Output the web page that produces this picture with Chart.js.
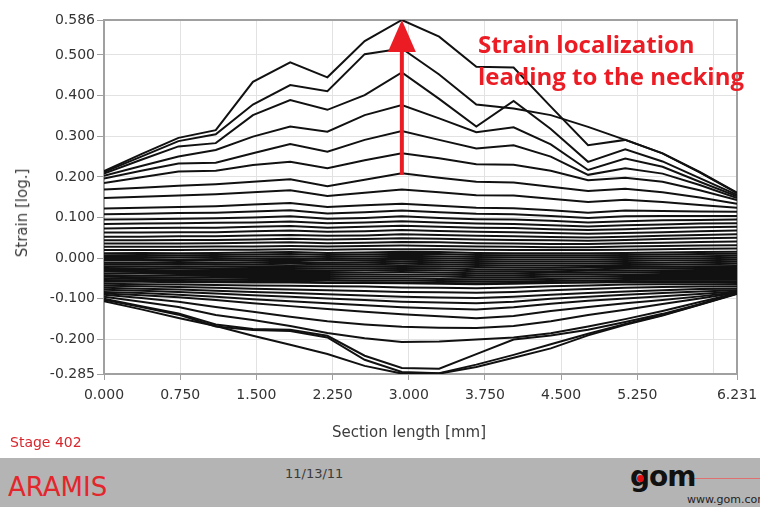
<!DOCTYPE html>
<html lang="en">
<head>
    <meta charset="UTF-8">
    <title>Strain along section - Stage 402</title>
    <script src="https://cdn.jsdelivr.net/npm/chart.js"></script>
    <style>
        body { margin: 0; width: 760px; height: 507px; position: relative; overflow: hidden; background: #fff; font-family: "DejaVu Sans", sans-serif; }
        #chartBox { position: absolute; left: 0; top: 0; width: 760px; height: 455px; }
        .txt { position: absolute; white-space: nowrap; }
        #yTitle { left: 22px; top: 213px; font-size: 15px; color: #3c3c3c; transform: translate(-50%, -50%) rotate(-90deg); }
        #xTitle { left: 409px; top: 432px; font-size: 15px; color: #3c3c3c; transform: translate(-50%, -50%); }
        #note { left: 478px; top: 28px; font-family: "Open Sans", sans-serif; font-weight: bold; font-size: 24px; line-height: 32px; color: #ec1c24; }
        #stage { left: 10px; top: 434px; font-size: 14px; color: #d8262c; }
        #footer { position: absolute; left: 0; top: 458px; width: 760px; height: 49px; background: #b4b4b4; }
        #aramis { left: 8px; top: 14px; font-size: 26px; color: #e3262b; }
        #date { left: 285px; top: 8px; font-size: 13px; color: #3a3a3a; }
        #gom { left: 630px; top: 2px; font-size: 28px; font-weight: bold; color: #111; letter-spacing: -1px; }
        #gomDot { position: absolute; left: 637px; top: 17px; width: 7px; height: 7px; border-radius: 50%; background: #e01010; }
        #gomLine { position: absolute; left: 688px; top: 20px; width: 80px; height: 1px; background: #e07070; }
        #web { left: 687px; top: 35px; font-size: 11px; color: #222; }
    </style>
</head>
<body>
    <div id="chartBox"><canvas id="strainChart" width="760" height="455"></canvas></div>
    <div class="txt" id="yTitle">Strain [log.]</div>
    <div class="txt" id="xTitle">Section length [mm]</div>
    <div class="txt" id="note">Strain localization<br>leading to the necking</div>
    <div class="txt" id="stage">Stage 402</div>
    <div id="footer">
        <div class="txt" id="aramis">ARAMIS</div>
        <div class="txt" id="date">11/13/11</div>
        <div id="gomLine"></div>
        <div class="txt" id="gom">gom</div>
        <div id="gomDot"></div>
        <div class="txt" id="web">www.gom.com</div>
    </div>

    <script>
        // section positions [mm]
        const sectionX = [0, 0.367, 0.733, 1.100, 1.466, 1.833, 2.199, 2.566, 2.932, 3.299, 3.665, 4.032, 4.398, 4.765, 5.131, 5.498, 5.864, 6.231];

        // axis ticks
        const xTickValues = [0, 0.75, 1.5, 2.25, 3.0, 3.75, 4.5, 5.25, 6.0, 6.231];
        const yTickValues = [-0.285, -0.2, -0.1, 0, 0.1, 0.2, 0.3, 0.4, 0.5, 0.586];

        // strain curves, one per stage (upper / near zero / lower)
        const upperCurves = [
            [0.214, 0.256, 0.296, 0.315, 0.434, 0.482, 0.445, 0.534, 0.586, 0.545, 0.471, 0.469, 0.373, 0.278, 0.291, 0.258, 0.212, 0.161],
            [0.212, 0.250, 0.288, 0.305, 0.378, 0.426, 0.411, 0.502, 0.516, 0.452, 0.378, 0.368, 0.352, 0.323, 0.291, 0.258, 0.211, 0.160],
            [0.208, 0.242, 0.275, 0.283, 0.352, 0.389, 0.365, 0.401, 0.457, 0.392, 0.324, 0.387, 0.318, 0.237, 0.268, 0.238, 0.197, 0.156],
            [0.203, 0.227, 0.250, 0.266, 0.299, 0.324, 0.311, 0.352, 0.377, 0.344, 0.310, 0.322, 0.280, 0.217, 0.245, 0.225, 0.188, 0.152],
            [0.196, 0.215, 0.233, 0.235, 0.258, 0.281, 0.262, 0.291, 0.313, 0.291, 0.270, 0.278, 0.250, 0.205, 0.221, 0.208, 0.180, 0.148],
            [0.185, 0.199, 0.213, 0.215, 0.229, 0.237, 0.221, 0.241, 0.258, 0.246, 0.231, 0.230, 0.215, 0.192, 0.198, 0.188, 0.167, 0.143],
            [0.169, 0.173, 0.178, 0.182, 0.188, 0.194, 0.177, 0.193, 0.209, 0.198, 0.188, 0.186, 0.176, 0.165, 0.171, 0.162, 0.149, 0.134],
            [0.148, 0.151, 0.154, 0.157, 0.162, 0.167, 0.153, 0.161, 0.169, 0.162, 0.155, 0.154, 0.146, 0.138, 0.144, 0.138, 0.131, 0.124],
            [0.122, 0.124, 0.126, 0.128, 0.132, 0.136, 0.126, 0.130, 0.134, 0.129, 0.124, 0.123, 0.118, 0.112, 0.117, 0.116, 0.115, 0.114],
            [0.108, 0.109, 0.111, 0.112, 0.115, 0.118, 0.110, 0.113, 0.117, 0.113, 0.109, 0.108, 0.104, 0.099, 0.103, 0.104, 0.104, 0.104],
            [0.095, 0.096, 0.097, 0.098, 0.100, 0.103, 0.097, 0.099, 0.103, 0.099, 0.096, 0.095, 0.092, 0.088, 0.091, 0.093, 0.094, 0.095],
            [0.084, 0.085, 0.086, 0.087, 0.088, 0.090, 0.086, 0.088, 0.091, 0.088, 0.085, 0.084, 0.081, 0.078, 0.081, 0.083, 0.085, 0.086],
            [0.073, 0.074, 0.075, 0.075, 0.077, 0.079, 0.075, 0.077, 0.080, 0.077, 0.075, 0.074, 0.071, 0.069, 0.071, 0.074, 0.076, 0.077],
            [0.063, 0.063, 0.064, 0.064, 0.066, 0.068, 0.065, 0.066, 0.069, 0.067, 0.065, 0.064, 0.062, 0.060, 0.062, 0.064, 0.066, 0.068],
            [0.053, 0.053, 0.054, 0.054, 0.056, 0.057, 0.055, 0.056, 0.059, 0.057, 0.055, 0.054, 0.052, 0.051, 0.053, 0.055, 0.057, 0.059],
            [0.044, 0.044, 0.045, 0.045, 0.046, 0.048, 0.046, 0.047, 0.049, 0.048, 0.046, 0.045, 0.044, 0.043, 0.045, 0.047, 0.049, 0.050],
            [0.036, 0.036, 0.036, 0.037, 0.038, 0.039, 0.037, 0.038, 0.040, 0.039, 0.037, 0.036, 0.035, 0.035, 0.037, 0.038, 0.040, 0.041],
            [0.028, 0.028, 0.028, 0.029, 0.029, 0.030, 0.029, 0.030, 0.031, 0.030, 0.029, 0.028, 0.027, 0.027, 0.029, 0.030, 0.031, 0.032],
            [0.020, 0.020, 0.020, 0.021, 0.021, 0.022, 0.021, 0.022, 0.022, 0.022, 0.021, 0.020, 0.020, 0.020, 0.021, 0.022, 0.023, 0.024]
        ];

        const bandCurves = [
            [0.012, 0.013, 0.012, 0.013, 0.014, 0.015, 0.013, 0.014, 0.016, 0.015, 0.013, 0.012, 0.012, 0.012, 0.013, 0.014, 0.015, 0.016],
            [0.007, 0.008, 0.007, 0.008, 0.009, 0.010, 0.008, 0.009, 0.011, 0.010, 0.008, 0.007, 0.007, 0.007, 0.008, 0.009, 0.010, 0.011],
            [0.003, 0.003, 0.002, 0.003, 0.004, 0.005, 0.003, 0.004, 0.006, 0.005, 0.003, 0.002, 0.002, 0.002, 0.003, 0.004, 0.005, 0.006],
            [-0.002, -0.002, -0.003, -0.002, -0.001, 0.000, -0.002, -0.001, 0.001, 0.000, -0.002, -0.003, -0.003, -0.003, -0.002, -0.001, 0.000, 0.001],
            [-0.006, -0.006, -0.007, -0.006, -0.005, -0.004, -0.006, -0.005, -0.004, -0.005, -0.007, -0.008, -0.008, -0.008, -0.007, -0.006, -0.005, -0.004],
            [-0.011, -0.011, -0.012, -0.011, -0.010, -0.009, -0.011, -0.010, -0.009, -0.010, -0.012, -0.013, -0.013, -0.013, -0.012, -0.011, -0.010, -0.009],
            [-0.015, -0.015, -0.016, -0.015, -0.015, -0.014, -0.015, -0.015, -0.014, -0.015, -0.017, -0.018, -0.018, -0.018, -0.017, -0.016, -0.015, -0.014],
            [-0.020, -0.020, -0.021, -0.020, -0.020, -0.019, -0.020, -0.020, -0.019, -0.020, -0.022, -0.023, -0.023, -0.022, -0.022, -0.021, -0.020, -0.019],
            [-0.024, -0.025, -0.025, -0.025, -0.024, -0.024, -0.025, -0.025, -0.024, -0.025, -0.027, -0.028, -0.027, -0.027, -0.026, -0.025, -0.024, -0.024],
            [-0.029, -0.029, -0.030, -0.029, -0.029, -0.029, -0.030, -0.030, -0.029, -0.030, -0.032, -0.032, -0.032, -0.031, -0.031, -0.030, -0.029, -0.029],
            [-0.033, -0.034, -0.034, -0.034, -0.034, -0.034, -0.034, -0.035, -0.034, -0.035, -0.037, -0.037, -0.036, -0.036, -0.035, -0.034, -0.034, -0.034],
            [-0.038, -0.038, -0.039, -0.039, -0.039, -0.039, -0.039, -0.040, -0.040, -0.040, -0.042, -0.042, -0.041, -0.040, -0.040, -0.039, -0.039, -0.039],
            [-0.042, -0.043, -0.043, -0.044, -0.044, -0.044, -0.044, -0.045, -0.045, -0.045, -0.047, -0.047, -0.046, -0.045, -0.044, -0.044, -0.044, -0.044],
            [-0.046, -0.047, -0.048, -0.048, -0.049, -0.049, -0.049, -0.050, -0.050, -0.051, -0.052, -0.052, -0.051, -0.050, -0.049, -0.049, -0.049, -0.049],
            [-0.050, -0.051, -0.052, -0.053, -0.054, -0.054, -0.054, -0.055, -0.055, -0.056, -0.057, -0.057, -0.056, -0.055, -0.054, -0.053, -0.053, -0.053],
            [-0.054, -0.055, -0.056, -0.057, -0.058, -0.058, -0.059, -0.059, -0.060, -0.061, -0.062, -0.061, -0.060, -0.059, -0.058, -0.057, -0.057, -0.057]
        ];

        const lowerCurves = [
            [-0.058, -0.058, -0.059, -0.059, -0.060, -0.060, -0.061, -0.061, -0.062, -0.063, -0.064, -0.063, -0.061, -0.060, -0.059, -0.059, -0.059, -0.061],
            [-0.063, -0.064, -0.065, -0.066, -0.067, -0.068, -0.069, -0.070, -0.072, -0.073, -0.074, -0.072, -0.069, -0.067, -0.065, -0.064, -0.064, -0.065],
            [-0.068, -0.069, -0.071, -0.073, -0.075, -0.077, -0.079, -0.081, -0.083, -0.084, -0.085, -0.083, -0.079, -0.076, -0.073, -0.071, -0.070, -0.070],
            [-0.073, -0.075, -0.077, -0.080, -0.083, -0.086, -0.089, -0.092, -0.095, -0.097, -0.098, -0.095, -0.090, -0.086, -0.082, -0.079, -0.076, -0.075],
            [-0.078, -0.080, -0.083, -0.087, -0.091, -0.095, -0.099, -0.103, -0.107, -0.109, -0.111, -0.107, -0.100, -0.095, -0.090, -0.086, -0.082, -0.079],
            [-0.083, -0.086, -0.090, -0.095, -0.101, -0.106, -0.111, -0.116, -0.121, -0.124, -0.126, -0.121, -0.112, -0.105, -0.099, -0.094, -0.088, -0.082],
            [-0.087, -0.091, -0.096, -0.103, -0.111, -0.118, -0.125, -0.132, -0.138, -0.143, -0.148, -0.142, -0.130, -0.120, -0.111, -0.103, -0.094, -0.084],
            [-0.090, -0.098, -0.107, -0.120, -0.132, -0.144, -0.155, -0.163, -0.169, -0.171, -0.172, -0.167, -0.155, -0.140, -0.127, -0.113, -0.099, -0.085],
            [-0.095, -0.107, -0.120, -0.140, -0.152, -0.167, -0.184, -0.197, -0.206, -0.205, -0.200, -0.195, -0.185, -0.168, -0.150, -0.130, -0.108, -0.086],
            [-0.100, -0.118, -0.136, -0.163, -0.174, -0.176, -0.191, -0.240, -0.270, -0.272, -0.236, -0.200, -0.190, -0.176, -0.157, -0.137, -0.113, -0.087],
            [-0.102, -0.120, -0.139, -0.168, -0.177, -0.179, -0.195, -0.250, -0.280, -0.283, -0.262, -0.238, -0.212, -0.186, -0.162, -0.140, -0.114, -0.087],
            [-0.106, -0.126, -0.147, -0.167, -0.191, -0.213, -0.236, -0.265, -0.284, -0.284, -0.268, -0.245, -0.222, -0.190, -0.164, -0.141, -0.115, -0.088]
        ];

        // red arrow marking the necking zone
        const arrowX = 2.932;
        const arrowFrom = 0.205;
        const arrowTo = 0.586;

        const allCurves = upperCurves.concat(bandCurves, lowerCurves);
        const datasets = allCurves.map((curve, i) => ({
            label: "stage " + i,
            data: curve.map((v, k) => ({ x: sectionX[k], y: v })),
            borderColor: "#111",
            borderWidth: 2,
            pointRadius: 0,
            tension: 0,
            fill: false
        }));

        // grey frame round the plot area
        const framePlugin = {
            id: "frame",
            beforeDatasetsDraw(chart) {
                const a = chart.chartArea, c = chart.ctx;
                c.save();
                c.strokeStyle = "#a0a0a0";
                c.lineWidth = 2;
                c.strokeRect(a.left, a.top, a.right - a.left, a.bottom - a.top);
                c.restore();
            }
        };

        const arrowPlugin = {
            id: "arrow",
            afterDatasetsDraw(chart) {
                const c = chart.ctx;
                const x = chart.scales.x.getPixelForValue(arrowX);
                const y0 = chart.scales.y.getPixelForValue(arrowFrom);
                const y1 = chart.scales.y.getPixelForValue(arrowTo);
                const headLen = 32, headHalf = 14;
                c.save();
                c.strokeStyle = "#ec1c24";
                c.fillStyle = "#ec1c24";
                c.lineWidth = 4;
                c.beginPath();
                c.moveTo(x, y0);
                c.lineTo(x, y1 + headLen - 2);
                c.stroke();
                c.beginPath();
                c.moveTo(x, y1);
                c.lineTo(x - headHalf, y1 + headLen);
                c.lineTo(x + headHalf, y1 + headLen);
                c.closePath();
                c.fill();
                c.restore();
            }
        };

        const tickFont = { family: "DejaVu Sans", size: 14 };

        new Chart(document.getElementById("strainChart"), {
            type: "line",
            data: { datasets: datasets },
            options: {
                responsive: false,
                animation: false,
                devicePixelRatio: 1,
                layout: { padding: { left: 0, top: 20, right: 23, bottom: 0 } },
                plugins: { legend: { display: false }, tooltip: { enabled: false } },
                scales: {
                    x: {
                        type: "linear",
                        min: 0,
                        max: 6.231,
                        afterBuildTicks: s => { s.ticks = xTickValues.map(v => ({ value: v })); },
                        afterFit: s => { s.height = 81; s.paddingLeft = 0; s.paddingRight = 0; },
                        ticks: {
                            autoSkip: false,
                            maxRotation: 0,
                            padding: 7,
                            color: "#333",
                            font: tickFont,
                            callback: v => (v === 6 ? "" : v.toFixed(3))
                        },
                        grid: {
                            color: "#e2e2e2",
                            tickLength: 6,
                            tickColor: c => (c.tick && c.tick.value === 6 ? "rgba(0,0,0,0)" : "#a0a0a0")
                        },
                        border: { color: "#a0a0a0", width: 2 }
                    },
                    y: {
                        type: "linear",
                        min: -0.285,
                        max: 0.586,
                        afterBuildTicks: s => { s.ticks = yTickValues.map(v => ({ value: v })); },
                        afterFit: s => { s.width = 104; s.paddingTop = 0; s.paddingBottom = 0; },
                        ticks: {
                            autoSkip: false,
                            padding: 2,
                            color: "#333",
                            font: tickFont,
                            callback: v => v.toFixed(3)
                        },
                        grid: { color: "#e2e2e2", tickLength: 7, tickColor: "#a0a0a0" },
                        border: { color: "#a0a0a0", width: 2 }
                    }
                }
            },
            plugins: [framePlugin, arrowPlugin]
        });
    </script>
</body>
</html>
